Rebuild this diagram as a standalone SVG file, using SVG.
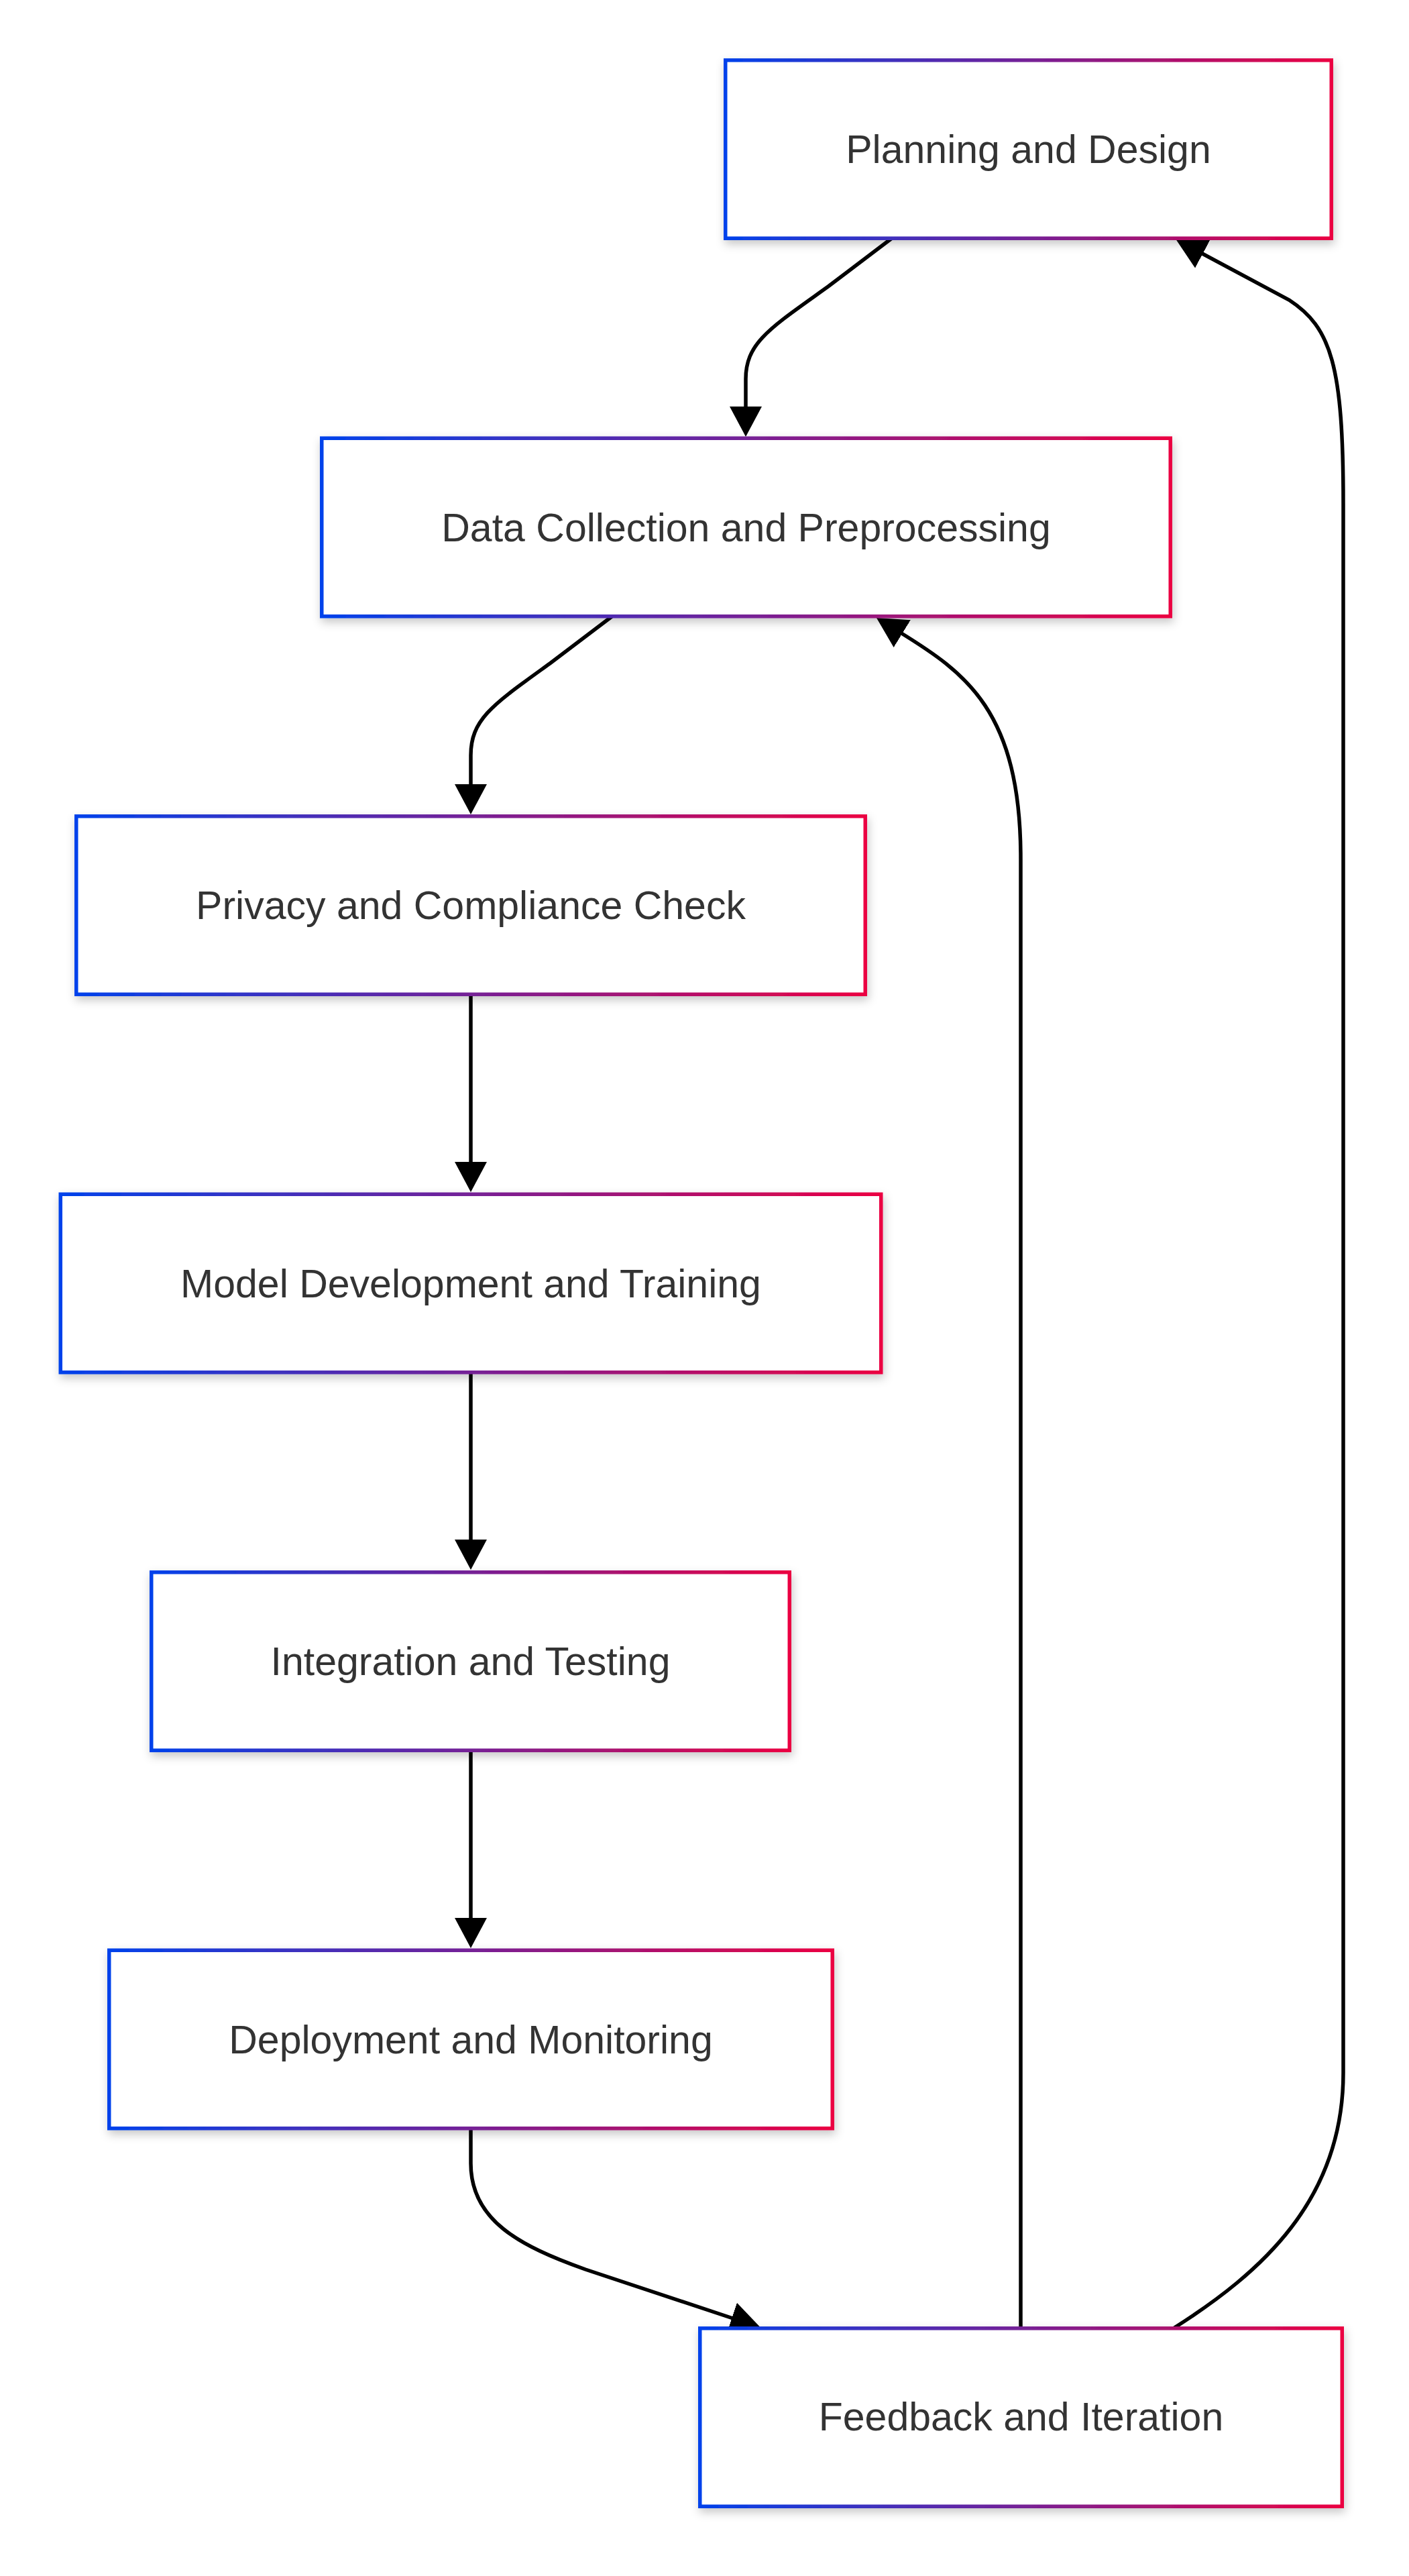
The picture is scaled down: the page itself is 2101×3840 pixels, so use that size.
<svg xmlns="http://www.w3.org/2000/svg" width="2101" height="3840" viewBox="0 0 2101 3840">
<style>
.node rect{fill:#ffffff;stroke:url(#grad);stroke-width:5.5;filter:url(#shadow);}
.node text{font-family:"Liberation Sans",Arial,sans-serif;font-size:59px;fill:#333333;text-anchor:middle;}
.edge{fill:none;stroke:#000000;stroke-width:5.5;marker-end:url(#arrow);}
</style>
<defs>
<linearGradient id="grad" x1="0" y1="0" x2="1" y2="0">
<stop offset="0" stop-color="#0042eb"/>
<stop offset="1" stop-color="#eb0042"/>
</linearGradient>
<filter id="shadow" x="-10%" y="-15%" width="120%" height="140%">
<feDropShadow dx="2" dy="6" stdDeviation="7" flood-color="#000000" flood-opacity="0.22"/>
</filter>
<marker id="arrow" viewBox="0 0 45 48" refX="5" refY="24" markerWidth="45" markerHeight="48" markerUnits="userSpaceOnUse" orient="auto">
<path d="M0,0 L45,24 L0,48 z" fill="#000000"/>
</marker>
</defs>
<g id="connectors">
<path class="edge" d="M1330,355 L1235,427 C1150,488 1112,510 1112,565 L1112,611"/>
<path class="edge" d="M915,917 L820,989 C737,1049 702,1071 702,1126 L702,1174"/>
<path class="edge" d="M702,1482 L702,1737"/>
<path class="edge" d="M702,2046 L702,2300"/>
<path class="edge" d="M702,2609 L702,2864"/>
<path class="edge" d="M702,3173 L702,3225 C702,3310 775,3348 873,3383 L1096,3457"/>
<path class="edge" d="M1522,3470 L1522,1280 C1522,1060 1440,1003 1341,942"/>
<path class="edge" d="M1751,3470 C1880,3388 2003,3280 2003,3090 L2003,750 C2003,545 1985,488 1922,447 L1789,376"/>
</g>
<g id="node-planning" class="node">
<rect x="1081.75" y="89.75" width="903.5" height="265.5"/>
<text x="1533.5" y="243">Planning and Design</text>
</g>
<g id="node-data" class="node">
<rect x="479.75" y="653.25" width="1265.5" height="265.5"/>
<text x="1112.5" y="806.5">Data Collection and Preprocessing</text>
</g>
<g id="node-privacy" class="node">
<rect x="113.75" y="1216.75" width="1176.5" height="265.5"/>
<text x="702" y="1370">Privacy and Compliance Check</text>
</g>
<g id="node-model" class="node">
<rect x="90.25" y="1780.25" width="1223.5" height="265.5"/>
<text x="702" y="1933.5">Model Development and Training</text>
</g>
<g id="node-integration" class="node">
<rect x="225.75" y="2343.75" width="951.5" height="265.5"/>
<text x="701.5" y="2497">Integration and Testing</text>
</g>
<g id="node-deployment" class="node">
<rect x="162.75" y="2907.25" width="1078.5" height="265.5"/>
<text x="702" y="3060.5">Deployment and Monitoring</text>
</g>
<g id="node-feedback" class="node">
<rect x="1043.75" y="3470.75" width="957.5" height="265.5"/>
<text x="1522.5" y="3623">Feedback and Iteration</text>
</g>
</svg>
